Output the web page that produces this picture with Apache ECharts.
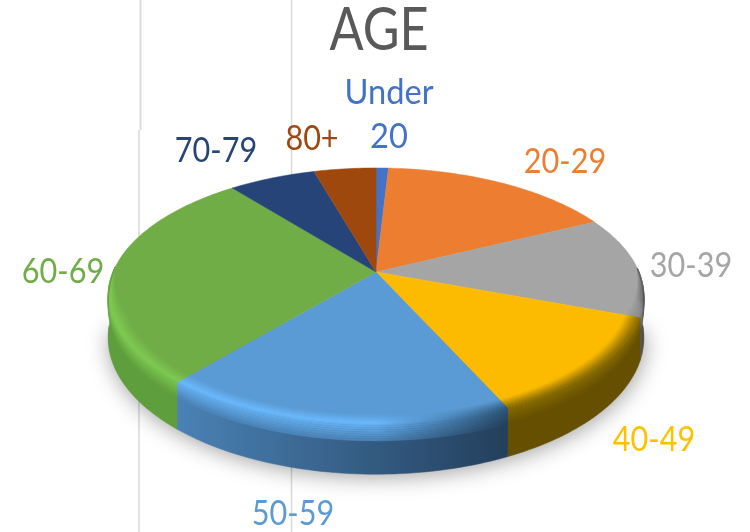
<!DOCTYPE html>
<html>
<head>
<meta charset="utf-8">
<title>AGE</title>
<script src="https://cdn.jsdelivr.net/npm/echarts@6/dist/echarts.min.js"></script>
<style>
html, body { margin: 0; padding: 0; background: #fff; }
#chart { width: 750px; height: 532px; }
</style>
</head>
<body>
<div id="chart"></div>
<script>
var categories = ['Under\n20', '20-29', '30-39', '40-49', '50-59', '60-69', '70-79', '80+'];
var shares = [0.9, 16.9, 12.8, 12.6, 18.0, 28.0, 6.3, 4.5];
var titleText = 'AGE';

var topColors = ['#4472c4', '#ed7d31', '#a5a5a5', '#fcbb00', '#5b9bd5', '#70ad47', '#264478', '#9e480e'];
var labelColors = ['#4472c4', '#ed7d31', '#a5a5a5', '#ffc000', '#5b9bd5', '#70ad47', '#264478', '#9e480e'];
// rim highlight and wall colours, left end / right end of each slice
var rimLeft = ['#4472c4', '#ed7d31', '#8a8a8a', '#8f7000', '#6abaff', '#7ecb52', '#264478', '#9e480e'];
var rimRight = ['#4472c4', '#ed7d31', '#5c5c5c', '#8f7000', '#2f5a80', '#7ecb52', '#264478', '#9e480e'];
var wallLeft = ['#2f4f88', '#a45722', '#5e5e5e', '#665000', '#4a82b5', '#5f9e3c', '#1a2f54', '#6e3209'];
var wallRight = ['#2f4f88', '#a45722', '#4a4a4a', '#665000', '#233f5c', '#5f9e3c', '#1a2f54', '#6e3209'];

// label centres, layout only
var labelSpots = [[389, 115], [565, 162], [691, 266], [654, 440], [293, 514], [63, 272], [216, 151], [312, 139]];

// cumulative slice ranges for the polar axis
var ranges = [];
var running = 0;
for (var i = 0; i < shares.length; i++) {
    ranges.push([running, running + shares[i]]);
    running += shares[i];
}
var total = running;

// polar helper circle, then a perspective tilt of the disc
var polarCx = 375, polarCy = 266, polarR = 100;
var apexX = 376, apexY = 272, spanX = 263, spanY = 123.8, tilt = 0.19, wallH = 40;

function rimPoint(api, angle, r, h) {
    var p = api.coord([r, angle]);
    var u = (p[0] - polarCx) / polarR;
    var v = (polarCy - p[1]) / polarR;
    var w = 1 + tilt * v;
    return [apexX + spanX * u / w, apexY - spanY * v / w + h / w];
}

function depthOf(api, angle) {
    return (polarCy - api.coord([1, angle])[1]) / polarR;
}

function rimWeight(api, angle) {
    return Math.max(0, Math.min(1, (0.05 - depthOf(api, angle)) / 0.4));
}

function arcAngles(a0, a1) {
    var n = Math.ceil((a1 - a0) * 3) + 1;
    var list = [];
    for (var j = 0; j <= n; j++) {
        list.push(a0 + (a1 - a0) * j / n);
    }
    return list;
}

function frontAngles(api, a0, a1, limit) {
    return arcAngles(a0, a1).filter(function (a) {
        return depthOf(api, a) <= limit;
    });
}

function hexRgb(c) {
    return [parseInt(c.substr(1, 2), 16), parseInt(c.substr(3, 2), 16), parseInt(c.substr(5, 2), 16)];
}

function mix(a, b, t) {
    var ca = hexRgb(a), cb = hexRgb(b);
    return 'rgb(' + Math.round(ca[0] + (cb[0] - ca[0]) * t) + ',' + Math.round(ca[1] + (cb[1] - ca[1]) * t) + ',' + Math.round(ca[2] + (cb[2] - ca[2]) * t) + ')';
}

function sweep(x0, x1, c0, cm, c1) {
    return new echarts.graphic.LinearGradient(x0, 0, x1 + 1, 0, [
        { offset: 0, color: c0 },
        { offset: 0.6, color: cm },
        { offset: 1, color: c1 }
    ], true);
}

function extentX(points) {
    var lo = Infinity, hi = -Infinity;
    points.forEach(function (p) {
        lo = Math.min(lo, p[0]);
        hi = Math.max(hi, p[0]);
    });
    return [lo, hi];
}

// shadow only comes from the front arc, the back edge of the disc stays clean
function renderShadow(params, api) {
    var pts = frontAngles(api, 0, total, -0.1).map(function (a) { return rimPoint(api, a, 1, wallH - 2); });
    return {
        type: 'polygon',
        silent: true,
        shape: { points: pts },
        style: { fill: '#777', shadowBlur: 22, shadowColor: 'rgba(0,0,0,0.38)', shadowOffsetY: 5, shadowOffsetX: 1 }
    };
}

function renderWall(params, api) {
    var i = params.dataIndex;
    // back of the rim is hidden by the top face, so only the front gets a wall
    var angles = frontAngles(api, api.value(0), api.value(1), 0.05);
    if (angles.length < 2) {
        return null;
    }
    var upper = angles.map(function (a) { return rimPoint(api, a, 1, 0); });
    var lower = angles.map(function (a) { return rimPoint(api, a, 1, wallH); }).reverse();
    var ex = extentX(upper);
    var fill = sweep(ex[0], ex[1], wallLeft[i], mix(wallLeft[i], wallRight[i], 0.6), wallRight[i]);
    return {
        type: 'polygon',
        silent: true,
        shape: { points: upper.concat(lower) },
        style: { fill: fill, stroke: fill, lineWidth: 0.5 }
    };
}

function renderTop(params, api) {
    var i = params.dataIndex;
    var angles = arcAngles(api.value(0), api.value(1));
    var pts = [[apexX, apexY]].concat(angles.map(function (a) { return rimPoint(api, a, 1, 0); }));
    return {
        type: 'polygon',
        silent: true,
        shape: { points: pts },
        style: { fill: topColors[i], stroke: topColors[i], lineWidth: 0.5 }
    };
}

// soft bevel: thin strips going from the top face over the highlight to the wall
function renderBevel(params, api) {
    var i = params.dataIndex;
    var angles = frontAngles(api, api.value(0), api.value(1), 0.05);
    if (angles.length < 2) {
        return null;
    }
    var steps = 18;
    var children = [];
    function strip(s) {
        return angles.map(function (a) {
            var w = rimWeight(api, a);
            if (s < 0.6) {
                return rimPoint(api, a, 1 - 0.055 * w * (1 - s / 0.6), 0);
            }
            return rimPoint(api, a, 1, 13 * w * (s - 0.6) / 0.4);
        });
    }
    for (var k = 0; k < steps; k++) {
        var a = strip(k / steps);
        var b = strip((k + 1) / steps).reverse();
        var s = (k + 0.5) / steps;
        var ex = extentX(a);
        var c0, c1;
        if (s < 0.5) {
            c0 = mix(topColors[i], rimLeft[i], s / 0.5);
            c1 = mix(topColors[i], rimRight[i], s / 0.5);
        } else {
            c0 = mix(rimLeft[i], wallLeft[i], (s - 0.5) / 0.5);
            c1 = mix(rimRight[i], wallRight[i], (s - 0.5) / 0.5);
        }
        // highlight stays bright for most of the slice and drops late
        var fill = sweep(ex[0], ex[1], c0, c0, c1);
        children.push({
            type: 'polygon',
            silent: true,
            shape: { points: a.concat(b) },
            style: { fill: fill, stroke: fill, lineWidth: 0.4 }
        });
    }
    return { type: 'group', children: children };
}

function renderLabel(params, api) {
    var i = params.dataIndex;
    return {
        type: 'text',
        silent: true,
        x: labelSpots[i][0],
        y: labelSpots[i][1],
        scaleX: categories[i].indexOf('\n') >= 0 ? 0.96 : 0.9,
        style: {
            text: categories[i],
            fill: labelColors[i],
            font: '34px Lato',
            lineHeight: 44,
            align: 'center',
            verticalAlign: 'middle'
        }
    };
}

function customSeries(data, z, fn) {
    return {
        type: 'custom',
        coordinateSystem: 'polar',
        data: data,
        z: z,
        silent: true,
        animation: false,
        renderItem: fn
    };
}

var myChart = echarts.init(document.getElementById('chart'), null, { renderer: 'canvas' });

myChart.setOption({
    backgroundColor: '#ffffff',
    animation: false,
    polar: {
        center: [polarCx, polarCy],
        radius: polarR
    },
    angleAxis: {
        type: 'value',
        min: 0,
        max: total,
        startAngle: 90,
        clockwise: true,
        show: false
    },
    radiusAxis: {
        type: 'value',
        min: 0,
        max: 1,
        show: false
    },
    graphic: [
        { type: 'line', silent: true, z: -1, shape: { x1: 140.5, y1: 0, x2: 140.5, y2: 130 }, style: { stroke: '#dcdcdc', lineWidth: 2 } },
        { type: 'line', silent: true, z: -1, shape: { x1: 139, y1: 130, x2: 139, y2: 532 }, style: { stroke: '#d9d9d9', lineWidth: 1.5 } },
        { type: 'line', silent: true, z: -1, shape: { x1: 291.5, y1: 0, x2: 291.5, y2: 532 }, style: { stroke: '#d9d9d9', lineWidth: 1.5 } },
        {
            type: 'text',
            silent: true,
            x: 379,
            y: 31,
            scaleX: 0.84,
            style: {
                text: titleText,
                fill: '#595959',
                font: '60px Lato',
                align: 'center',
                verticalAlign: 'middle'
            }
        }
    ],
    series: [
        customSeries([[0, total]], 1, renderShadow),
        customSeries(ranges, 2, renderWall),
        customSeries(ranges, 3, renderTop),
        customSeries(ranges, 4, renderBevel),
        customSeries(ranges, 5, renderLabel)
    ]
});
</script>
</body>
</html>
